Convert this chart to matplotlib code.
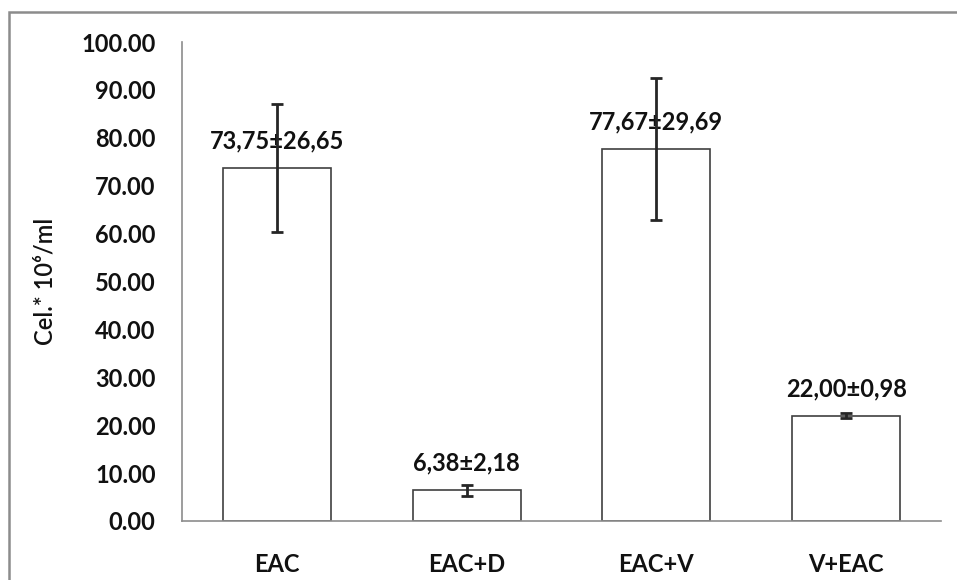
import matplotlib
matplotlib.use("Agg")
import matplotlib.pyplot as plt
from matplotlib.patches import Rectangle

categories = ["EAC", "EAC+D", "EAC+V", "V+EAC"]
means = [73.75, 6.38, 77.67, 22.00]
sds = [26.65, 2.18, 29.69, 0.98]
labels = ["73,75±26,65", "6,38±2,18", "77,67±29,69", "22,00±0,98"]
yticks = [0, 10, 20, 30, 40, 50, 60, 70, 80, 90, 100]

plt.rcParams['font.family'] = ['Lato', 'DejaVu Sans']

W, H = 957, 580
fig = plt.figure(figsize=(W / 100, H / 100), dpi=100)
fig.patch.set_facecolor('white')

left, right, bottom, top = 182, 941, 521, 42
ax = fig.add_axes([left / W, (H - bottom) / H, (right - left) / W, (bottom - top) / H])

x = list(range(len(categories)))
errs = [s / 2 for s in sds]
ax.bar(x, means, width=0.57, color='white', edgecolor='#404040', linewidth=1.2, zorder=2)
ax.errorbar(x, means, yerr=errs, fmt='none', ecolor='#262626', elinewidth=2.0,
            capsize=4, capthick=2.0, zorder=4)
for xi, m, lab in zip(x, means, labels):
    ax.annotate(lab, (xi, m), xytext=(0, 19.5), textcoords='offset points',
                ha='center', va='center', fontsize=17, fontweight='bold',
                color='#111111', zorder=3)

ax.set_xlim(-0.5, len(categories) - 0.5)
ax.set_ylim(0, 100)
ax.set_yticks(yticks)
ax.set_yticklabels([f"{v:.2f}" for v in yticks], fontsize=17, fontweight='bold', color='#111111')
ax.set_xticks(x)
ax.set_xticklabels(categories, fontsize=17, fontweight='bold', color='#111111')
ax.tick_params(axis='y', length=0, pad=19)
ax.tick_params(axis='x', length=0, pad=23)

for s in ['top', 'right']:
    ax.spines[s].set_visible(False)
for s in ['left', 'bottom']:
    ax.spines[s].set_color('#8c8c8c')
    ax.spines[s].set_linewidth(1.2)

ax.set_ylabel("Cel.* 10⁶/ml", fontsize=17, fontweight='semibold', color='#111111')
ax.yaxis.set_label_coords((57 - left) / (right - left), 0.5)

fig.add_artist(Rectangle((8.5 / W, -0.1), 2, (H - 12) / H + 0.1, transform=fig.transFigure,
                         fill=False, edgecolor='#8c8c8c', linewidth=1.8))

fig.savefig("out.png", dpi=100)
